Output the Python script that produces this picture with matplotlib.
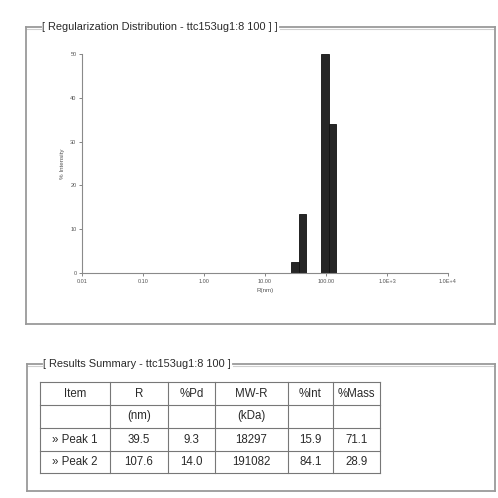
import matplotlib
matplotlib.use("Agg")
import matplotlib.pyplot as plt
from matplotlib.lines import Line2D
import numpy as np

# ---- data ----
radius_nm = [31.0, 41.0, 95.5, 128.0]        # bin centres (nm)
intensity = [2.4, 13.5, 50.0, 34.1]          # % intensity
x_ticks = [0.01, 0.1, 1, 10, 100, 1000, 10000]
x_tick_labels = ["0.01", "0.10", "1.00", "10.00", "100.00", "1.0E+3", "1.0E+4"]
y_ticks = [0, 10, 20, 30, 40, 50]

table_header = ["Item", "R", "%Pd", "MW-R", "%Int", "%Mass"]
table_units = ["", "(nm)", "", "(kDa)", "", ""]
peak_names = ["» Peak 1", "» Peak 2"]
peak_R = ["39.5", "107.6"]
peak_Pd = ["9.3", "14.0"]
peak_MW = ["18297", "191082"]
peak_Int = ["15.9", "84.1"]
peak_Mass = ["71.1", "28.9"]

FONT = ["Liberation Sans", "DejaVu Sans"]
plt.rcParams["font.family"] = FONT

W = H = 498
fig = plt.figure(figsize=(4.98, 4.98), dpi=100)
fig.patch.set_facecolor("white")
renderer = fig.canvas.get_renderer()

def fx(px):
    return px / W

def fy(py):
    return 1 - py / H

def hline(x0, x1, y, **kw):
    fig.add_artist(Line2D([fx(x0), fx(x1)], [fy(y), fy(y)], transform=fig.transFigure, **kw))

def vline(x, y0, y1, **kw):
    fig.add_artist(Line2D([fx(x), fx(x)], [fy(y0), fy(y1)], transform=fig.transFigure, **kw))

frame_kw = dict(color="#9a9a9a", lw=1.3)
frame2_kw = dict(color="#cfcfcf", lw=0.8)

def framed_box(x0, x1, y0, y1, title, size):
    t = fig.text(fx(x0 + 16), fy(y0), title, fontsize=size, color="#2a2a2a",
                 va="center", ha="left")
    bb = t.get_window_extent(renderer)
    tx1 = bb.x1 + 2
    hline(x0, x0 + 15, y0, **frame_kw)
    hline(x0, x0 + 15, y0 + 2, **frame2_kw)
    hline(tx1, x1, y0, **frame_kw)
    hline(tx1, x1, y0 + 2, **frame2_kw)
    vline(x0, y0, y1, **frame_kw)
    vline(x1, y0, y1, **frame_kw)
    hline(x0, x1, y1, **frame_kw)

framed_box(26, 495, 27, 324, "[ Regularization Distribution - ttc153ug1:8 100 ] ]", 7.9)

# ---- histogram axes ----
ax = fig.add_axes([fx(82), fy(273), fx(448) - fx(82), fy(54) - fy(273)])
ax.set_facecolor("none")
ax.set_xscale("log")
half = 10 ** (0.123 / 2)
lefts = [r / half for r in radius_nm]
widths = [r * half - r / half for r in radius_nm]
ax.bar(lefts, intensity, width=widths, align="edge", color="#262626",
       edgecolor="#111111", linewidth=0.6)
ax.set_xlim(0.01, 10000)
ax.set_ylim(0, 50)
ax.set_xticks(x_ticks)
ax.set_xticklabels(x_tick_labels)
ax.minorticks_off()
ax.set_yticks(y_ticks)
ax.tick_params(labelsize=4, length=2, width=0.5, colors="#555555", pad=2)
for s in ["top", "right"]:
    ax.spines[s].set_visible(False)
for s in ["left", "bottom"]:
    ax.spines[s].set_color("#8a8a8a")
    ax.spines[s].set_linewidth(0.8)
ax.set_xlabel("R(nm)", fontsize=4.5, color="#555555", labelpad=3)
ax.set_ylabel("% Intensity", fontsize=4.5, color="#555555", labelpad=4)

# ---- bottom frame ----
framed_box(27, 495, 364, 491, "[ Results Summary - ttc153ug1:8 100 ]", 7.9)

# ---- table ----
col_edges = [40, 110, 168, 215, 288, 333, 380]
row_edges = [382, 405, 428, 451, 473]
grid_kw = dict(color="#777777", lw=0.8)
for y in row_edges:
    hline(col_edges[0], col_edges[-1], y, **grid_kw)
for x in col_edges:
    vline(x, row_edges[0], row_edges[-1], **grid_kw)

rows = [table_header, table_units]
for i in range(len(peak_names)):
    rows.append([peak_names[i], peak_R[i], peak_Pd[i], peak_MW[i], peak_Int[i], peak_Mass[i]])

for r, row in enumerate(rows):
    yc = (row_edges[r] + row_edges[r + 1]) / 2
    for c, txt in enumerate(row):
        xc = (col_edges[c] + col_edges[c + 1]) / 2
        fig.text(fx(xc), fy(yc), txt, fontsize=8.3, color="#2a2a2a",
                 ha="center", va="center")

fig.savefig("out.png", dpi=100, facecolor="white")
